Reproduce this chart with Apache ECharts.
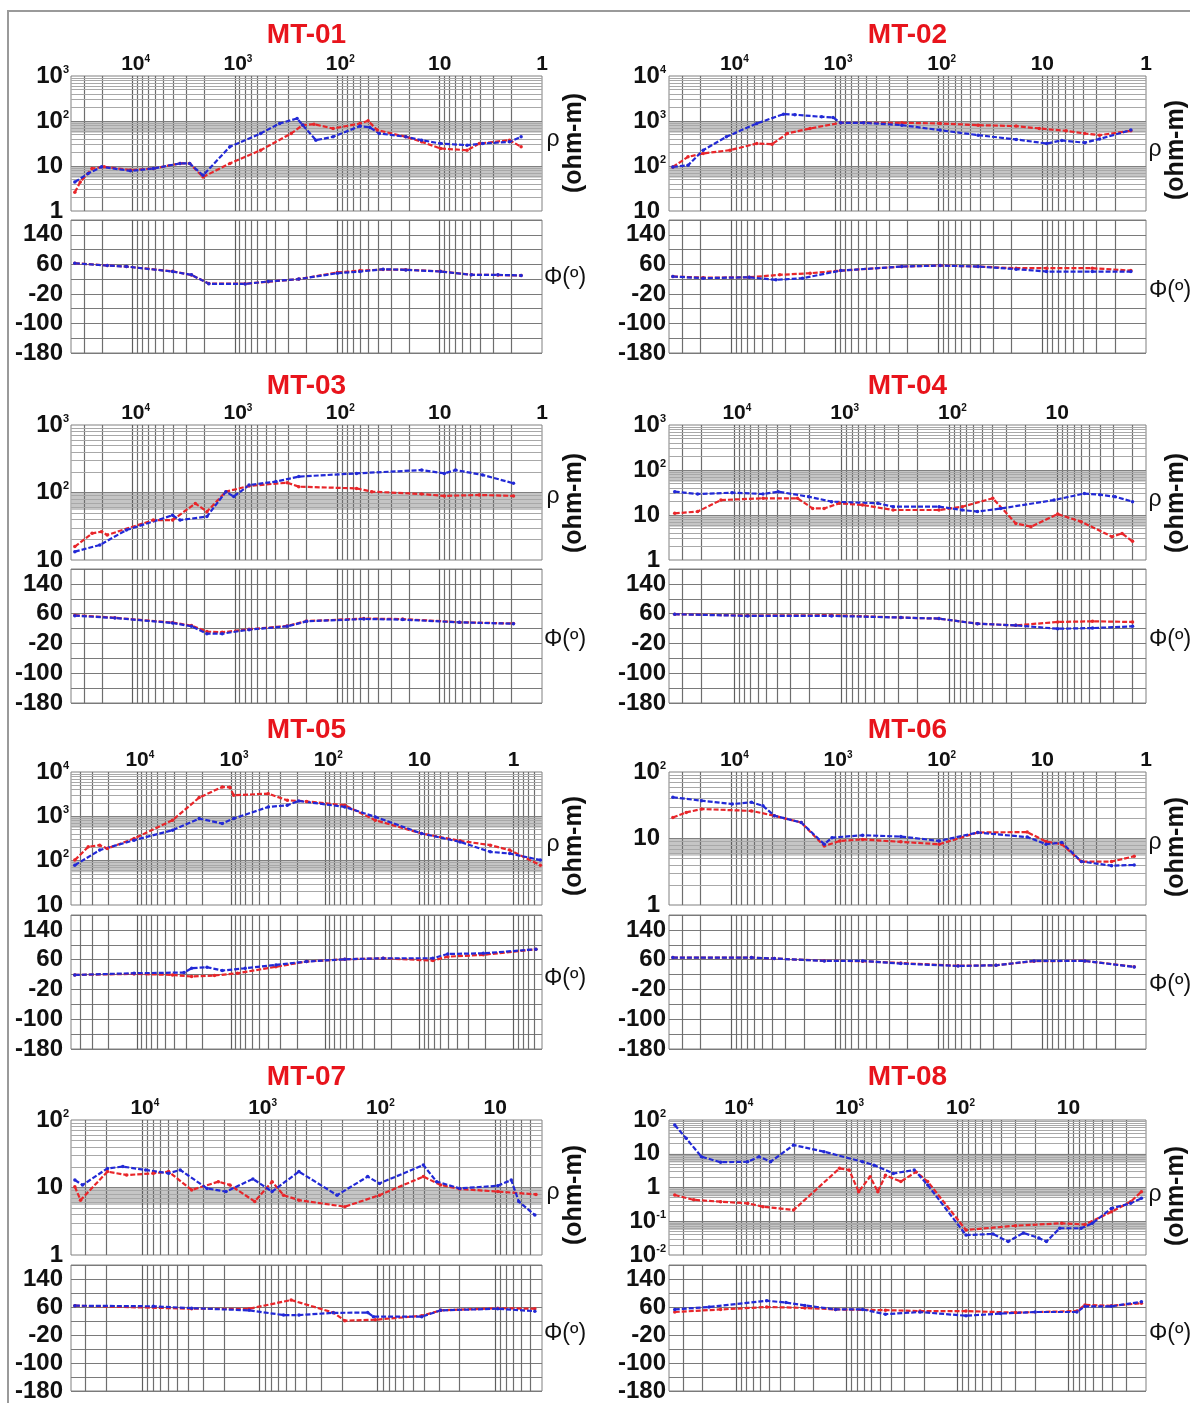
<!DOCTYPE html>
<html>
<head>
<meta charset="utf-8">
<script src="https://cdn.jsdelivr.net/npm/echarts@6/dist/echarts.min.js"></script>
<style>
  html, body { margin: 0; padding: 0; background: #fff; }
  #c { width: 1190px; height: 1403px; }
</style>
</head>
<body>
<div id="c"></div>
<script>
// ---- Station names ----
const stations = ['MT-01', 'MT-02', 'MT-03', 'MT-04', 'MT-05', 'MT-06', 'MT-07', 'MT-08'];

// ---- Frequency span of each station's horizontal axis, Hz [low, high] ----
const freqRange = [[1, 40000], [1, 40000], [1, 40000], [1.5, 40000], [0.5, 50000], [1, 40000], [4, 40000], [2, 40000]];

// ---- Apparent resistivity span of each station, ohm-m [low, high] ----
const rhoRange = [[1, 1000], [10, 10000], [10, 1000], [1, 1000], [10, 10000], [1, 100], [1, 100], [0.01, 100]];

// ---- Phase axis ----
const phaseRange = [-180, 180];
const phaseLabels = [140, 60, -20, -100, -180];

// ---- Sounding curves: [frequency Hz, value] ----
const mt01RhoRed = [[36700,2.6],[32500,4.4],[24900,8.8],[19000,9.6],[10500,8.1],[6280,8.8],[3440,11.4],[2770,11.4],[2050,5.7],[1120,11.4],[562,22.4],[282,52.8],[218,81],[169,85],[110,68],[60,88],[50,101],[40.7,62.7],[21.4,44.6],[15,34.4],[9.8,24.5],[5.4,22.4],[4.1,31.6],[2.08,37.5],[1.6,26.7]];
const mt01RhoBlue = [[36700,4.4],[27200,6.8],[20100,9.6],[10500,7.8],[6280,8.8],[3440,11.4],[2770,11.4],[2050,6.2],[1122,26.7],[562,52.8],[366,88],[247,114],[218,81],[162,37.5],[110,44.6],[60,77],[48,72],[39,53],[21.4,44.6],[15,37.5],[9.8,31.6],[5.4,29],[3.8,31.6],[2.08,34.4],[1.6,44.6]];
const mt01PhaseRed = [[36700,63],[17700,57],[11500,54],[4070,41],[2660,31],[1800,8],[794,7.5],[473,13],[238,20],[100,38],[60,43],[35.7,46],[21.4,45.5],[9.8,41],[4.9,32],[2.7,31],[1.6,29.5]];
const mt01PhaseBlue = [[36700,63],[17700,56.7],[11500,54],[4070,40.5],[2660,31.5],[1800,7.2],[794,7],[473,13.5],[238,20],[100,36],[60,40.5],[35.7,46.8],[21.4,45],[9.8,40.5],[4.9,31.5],[2.7,31.5],[1.6,30]];

const mt02RhoRed = [[36700,95],[26200,160],[18700,190],[10300,225],[5690,316],[4050,305],[2890,528],[1740,683],[881,913],[530,913],[227,913],[97,882],[41.7,809],[17.9,770],[10.7,683],[5.9,605],[3.9,528],[2.8,485],[1.4,605]];
const mt02RhoBlue = [[36700,95],[26200,104],[18700,225],[11200,445],[5690,882],[3145,1420],[2440,1380],[1350,1240],[1045,1200],[881,913],[530,913],[227,809],[97,627],[41.7,485],[17.9,389],[9.1,316],[6.5,370],[3.9,330],[2.8,400],[1.4,627]];
const mt02PhaseRed = [[36700,27],[18700,24],[6740,25],[3420,31.5],[1740,36],[881,43],[227,54],[97,56.7],[41.7,54],[17.9,49.5],[9.1,49.5],[3.3,49.5],[1.4,43]];
const mt02PhaseBlue = [[36700,27],[18700,22.5],[6740,25],[3720,18],[2060,22.5],[881,43],[227,54],[97,56.7],[41.7,54],[17.9,47],[9.1,40.5],[3.3,40.5],[1.4,40.5]];

const mt03RhoRed = [[36700,15.8],[24900,24.8],[20100,26.3],[17700,23.5],[6280,39],[4070,39],[2440,69],[1880,52],[1225,103],[728,125],[309,140],[238,122],[65,115],[46,103],[15,95],[9,89],[4.1,92],[1.9,89]];
const mt03RhoBlue = [[36700,13.3],[20900,16.7],[11500,27.8],[4070,46],[3440,39],[1880,44],[1225,103],[1028,87],[728,129],[398,145],[238,172],[65,192],[15,215],[9,192],[7,215],[3.8,182],[1.9,137]];
const mt03PhaseRed = [[36700,56],[14900,49],[4070,36],[2660,28],[1880,12],[1333,10],[728,18],[309,27],[200,40],[55,47],[23,45.5],[6.4,37],[1.9,33.5]];
const mt03PhaseBlue = [[36700,54.6],[14900,48.4],[4070,35],[2660,26],[1880,6.3],[1333,6.3],[728,17],[309,26],[200,39.4],[55,45.7],[23,44],[6.4,36.7],[1.9,33]];

const mt04RhoRed = [[35400,10.9],[21700,11.9],[13200,21.5],[5370,23.5],[2570,23.5],[1860,14],[1455,14],[1050,18.2],[641,16.7],[333,12.9],[125,12.9],[76,15.3],[39.6,23.5],[24.2,6.5],[17.5,5.5],[9.9,10.5],[6.0,7.1],[3.1,3.3],[2.5,3.9],[2.0,2.6]];
const mt04RhoBlue = [[35400,33],[21700,29.3],[10400,31.3],[5370,29.3],[3870,33],[2020,25.5],[1240,19.8],[461,18.2],[333,15.3],[125,15.3],[76,12.9],[55,11.9],[33.6,13.9],[10.7,21.5],[5.6,30],[4.0,28.2],[2.9,25.5],[2.0,19.8]];
const mt04PhaseRed = [[35400,58.5],[7460,55],[1240,56],[282,49.5],[125,46.7],[55,33],[24.2,28.6],[9.9,37.7],[4.7,39.5],[2.0,37.7]];
const mt04PhaseBlue = [[35400,58.5],[7460,54],[1240,54],[282,49.5],[125,46.7],[55,33],[24.2,28.6],[9.9,19.5],[4.7,21.3],[2.0,26]];

const mt05RhoRed = [[45600,103],[32800,205],[24800,224],[20600,188],[10700,316],[4180,817],[2180,2645],[1240,4600],[1030,4500],[936,2985],[403,3250],[253,2300],[158,2170],[62,1780],[29.4,817],[9.5,410],[3.7,280],[1.77,224],[1.1,173],[0.52,79]];
const mt05RhoBlue = [[45600,79],[24800,173],[10700,290],[4180,487],[2180,891],[1240,688],[936,891],[403,1630],[253,1780],[191,2225],[62,1630],[29.4,972],[9.5,410],[3.7,265],[1.77,158],[1.1,145],[0.52,103]];
const mt05PhaseRed = [[45600,19],[10700,21.8],[4180,19],[2620,14.7],[1500,17.4],[851,23.6],[334,41],[158,55],[62,61],[24.3,63.8],[7.2,57.6],[5.0,68],[2.1,73],[0.58,88]];
const mt05PhaseBlue = [[45600,19],[10700,23.6],[3150,25.4],[2620,37],[1800,39.7],[1240,30.8],[708,37],[334,46],[158,55],[62,61],[24.3,63.8],[7.2,63.8],[5.0,75.4],[2.1,77],[0.58,88]];

const mt06RhoRed = [[36700,20.7],[27300,24.7],[19400,27.7],[6410,26],[3850,22],[2120,17.4],[1270,7.7],[900,9.2],[543,9.7],[232,8.9],[99,8.2],[42,12.3],[14,12.5],[9.2,9],[6.5,8.2],[4.2,4.5],[2.15,4.5],[1.3,5.4]];
const mt06RhoBlue = [[36700,41.7],[19400,37],[9820,33],[6410,35],[4960,31],[3850,22],[2120,17.4],[1270,8.2],[1070,10.3],[543,11.2],[232,10.7],[99,9.2],[42,12.3],[14,10.5],[9.2,8.2],[6.5,8.7],[4.2,4.5],[2.15,3.9],[1.3,4.0]];
const mt06PhaseRed = [[36700,65.7],[6410,65.7],[3850,63],[1270,57],[543,56],[232,51],[65,43.5],[28,45],[12,56],[3.9,56.7],[1.3,41]];
const mt06PhaseBlue = [[36700,65.7],[6410,65.7],[3850,63],[1270,56.7],[543,56.7],[232,49.5],[65,43],[28,45],[12,56.7],[3.9,56.7],[1.3,40.5]];

const mt07RhoRed = [[37100,10.3],[33200,6.5],[19600,17.2],[13500,15.3],[8000,16.2],[5930,17.2],[3780,9.2],[2240,12.2],[1790,10.9],[1100,6.2],[784,12.2],[627,7.7],[464,6.5],[189,5.2],[96,7.7],[40.7,14.5],[29,10.9],[20,9.5],[9.5,8.7],[4.5,7.9]];
const mt07RhoBlue = [[37100,12.9],[31900,10.9],[19600,19.2],[14500,20.4],[9290,18.2],[5930,16.2],[4730,18.2],[2800,9.7],[1930,8.7],[1140,13.4],[784,8.7],[464,17.2],[220,7.7],[121,14.5],[96,11.5],[40.7,21.5],[31.4,12.2],[20,9.7],[9.5,10.6],[7.3,12.9],[6.3,6.2],[4.6,3.9]];
const mt07PhaseRed = [[37100,63.8],[3780,55],[1230,55],[540,80],[237,44],[189,21],[104,23.6],[42,35],[29,50.4],[9.5,56.7],[4.6,55]];
const mt07PhaseBlue = [[37100,63.8],[8000,62],[3780,56.7],[1230,50.4],[627,37],[464,37],[237,43.3],[121,44],[108,32.5],[42,32.5],[29,50.4],[9.5,55],[4.6,48]];

const mt08RhoRed = [[35500,0.6],[23900,0.43],[13700,0.38],[7810,0.34],[5690,0.27],[3010,0.215],[1160,3.7],[950,3.3],[780,0.75],[614,2.1],[524,0.75],[447,2.3],[325,1.5],[237,2.9],[186,1.5],[84,0.055],[30,0.074],[11.5,0.087],[7.1,0.08],[4.1,0.19],[2.75,0.38],[2.2,0.75]];
const mt08RhoBlue = [[35500,71],[28000,28.6],[20400,8.2],[13700,5.6],[7810,5.8],[6170,8.2],[4850,5.8],[3010,18.2],[1600,11.5],[720,5.8],[566,4.6],[380,2.6],[246,3.3],[186,1.19],[84,0.039],[48,0.042],[35,0.025],[25.5,0.045],[18.5,0.032],[15.8,0.025],[12,0.062],[7.7,0.062],[6.1,0.087],[4.1,0.24],[2.75,0.34],[2.2,0.48]];
const mt08PhaseRed = [[35500,45.7],[13700,53],[5260,60],[2380,57.4],[1260,53],[447,51],[218,48.4],[84,48.4],[30,44],[8.4,48.4],[7.1,66],[4.1,63.6],[2.2,70.8]];
const mt08PhaseBlue = [[35500,53],[17400,60],[5260,78],[3530,72.6],[2380,64.5],[1260,53],[720,53],[447,39.5],[218,45.7],[84,35],[41,41.2],[20,45.7],[8.4,45.7],[7.1,61.8],[4.1,61.8],[2.2,75]];

const rhoRedSets = [mt01RhoRed, mt02RhoRed, mt03RhoRed, mt04RhoRed, mt05RhoRed, mt06RhoRed, mt07RhoRed, mt08RhoRed];
const rhoBlueSets = [mt01RhoBlue, mt02RhoBlue, mt03RhoBlue, mt04RhoBlue, mt05RhoBlue, mt06RhoBlue, mt07RhoBlue, mt08RhoBlue];
const phaseRedSets = [mt01PhaseRed, mt02PhaseRed, mt03PhaseRed, mt04PhaseRed, mt05PhaseRed, mt06PhaseRed, mt07PhaseRed, mt08PhaseRed];
const phaseBlueSets = [mt01PhaseBlue, mt02PhaseBlue, mt03PhaseBlue, mt04PhaseBlue, mt05PhaseBlue, mt06PhaseBlue, mt07PhaseBlue, mt08PhaseBlue];

// ---- Page layout (pixels) ----
const FONT = '"Liberation Sans", Arial, Helvetica, sans-serif';
const RED = '#e8262a', BLUE = '#2229d6', TITLE_RED = '#e8141c';
const COL_X = [71, 669], COL_W = [471, 477];
const RHO_BOX = [[76, 135], [425, 135], [772, 133], [1120, 135]];
const PH_BOX = [[220, 133], [569, 134], [915, 134], [1265, 135]];
const TITLE_Y = [35, 386, 730, 1077];
const RHO_SYM_Y = [[140, 150], [497, 500], [845, 843], [1193, 1195]];
const OHM_Y = [[143, 150], [503, 503], [846, 847], [1195, 1196]];
const PHI_Y = [[278, 291], [640, 640], [979, 985], [1334, 1334]];
const RHO_SYM_X = [553, 1155], OHM_X = [574, 1176], PHI_X = [565, 1170];
const Y_LABEL_MARGIN_RHO = [2, 3], Y_LABEL_MARGIN_PH = [8, 3];

// decade labels with a raised exponent
function isDecade(v) {
  const e = Math.log10(v);
  return Math.abs(e - Math.round(e)) < 1e-6;
}
function xDecadeLabel(v) {
  if (!isDecade(v)) return '';
  const e = Math.round(Math.log10(v));
  if (e === 0) return '{b|1}';
  if (e === 1) return '{b|10}';
  return '{sp| }{b|10}{s|' + e + '}';
}
function yDecadeLabel(v) {
  if (!isDecade(v)) return '';
  const e = Math.round(Math.log10(v));
  if (e === 0) return '{b|1}{sp| }';
  if (e === 1) return '{b|10}{sp| }';
  return '{b|10}{s|' + e + '}';
}
const xRich = {
  b: { fontSize: 21, fontWeight: 'bold', color: '#111', fontFamily: FONT },
  s: { fontSize: 10, fontWeight: 'bold', color: '#111', fontFamily: FONT, verticalAlign: 'top' },
  sp: { width: 6, fontSize: 10 }
};
const yRich = {
  b: { fontSize: 24, fontWeight: 'bold', color: '#111', fontFamily: FONT },
  s: { fontSize: 11, fontWeight: 'bold', color: '#111', fontFamily: FONT, verticalAlign: 'top' },
  sp: { width: 6, fontSize: 11 }
};

// log-spaced grid values (1..9 x 10^n) strictly inside [lo, hi]
function logGridValues(lo, hi) {
  const out = [];
  for (let e = Math.floor(Math.log10(lo)) - 1; e <= Math.ceil(Math.log10(hi)); e++) {
    for (let k = 1; k <= 9; k++) {
      const v = parseFloat((k * Math.pow(10, e)).toPrecision(6));
      if (v > lo * 1.0001 && v < hi * 0.9999) out.push({ v, major: k === 1 });
    }
  }
  return out;
}

const grids = [], xAxes = [], yAxes = [], series = [], graphics = [];

graphics.push({
  type: 'rect', silent: true, z: 0,
  shape: { x: 8, y: 11, width: 1220, height: 1440 },
  style: { fill: 'none', stroke: '#9a9a9a', lineWidth: 2 }
});

stations.forEach((name, i) => {
  const col = i % 2, row = Math.floor(i / 2);
  const left = COL_X[col], width = COL_W[col];
  const [fLo, fHi] = freqRange[i];
  const [rLo, rHi] = rhoRange[i];
  const rhoIdx = 2 * i, phIdx = 2 * i + 1;

  grids.push({ left, width, top: RHO_BOX[row][0], height: RHO_BOX[row][1], show: true, borderColor: '#808080', borderWidth: 1, backgroundColor: '#fff' });
  grids.push({ left, width, top: PH_BOX[row][0], height: PH_BOX[row][1], show: true, borderColor: '#808080', borderWidth: 1, backgroundColor: '#fff' });

  const xBase = {
    type: 'log', logBase: 10, min: fLo, max: fHi, inverse: true,
    axisLine: { show: false }, axisTick: { show: false }, splitLine: { show: false },
    splitNumber: 5
  };
  xAxes.push(Object.assign({}, xBase, {
    gridIndex: rhoIdx, position: 'top',
    axisLabel: { show: true, margin: 1, formatter: xDecadeLabel, rich: xRich, hideOverlap: false }
  }));
  xAxes.push(Object.assign({}, xBase, { gridIndex: phIdx, position: 'bottom', axisLabel: { show: false } }));

  const decades = Math.round(Math.log10(rHi / rLo));
  yAxes.push({
    gridIndex: rhoIdx, type: 'log', logBase: 10, min: rLo, max: rHi, splitNumber: decades,
    axisLine: { show: false }, axisTick: { show: false }, splitLine: { show: false },
    axisLabel: { margin: Y_LABEL_MARGIN_RHO[col], formatter: yDecadeLabel, rich: yRich }
  });
  yAxes.push({
    gridIndex: phIdx, type: 'value', min: phaseRange[0], max: phaseRange[1], interval: 40,
    axisLine: { show: false }, axisTick: { show: false },
    splitLine: { show: true, lineStyle: { color: '#7a7a7a', width: 1 } },
    axisLabel: {
      margin: Y_LABEL_MARGIN_PH[col], fontSize: 24, fontWeight: 'bold', color: '#111', fontFamily: FONT,
      formatter: v => (phaseLabels.indexOf(v) >= 0 ? String(v) : '')
    }
  });

  // grid lines of the log frequency axis, shared by both boxes
  const vLines = logGridValues(fLo, fHi).map(g => ({ xAxis: g.v, lineStyle: { color: g.major ? '#5e5e5e' : '#6e6e6e', width: 1.2 } }));
  // log resistivity grid lines and the shaded band beneath each inner decade
  const hLines = logGridValues(rLo, rHi).map(g => ({ yAxis: g.v, lineStyle: { color: g.major ? '#808080' : '#a8a8a8', width: 1 } }));
  const bands = logGridValues(rLo, rHi).filter(g => g.major).map(g => [{ yAxis: g.v * 0.55 }, { yAxis: g.v }]);

  const markLineBase = { silent: true, symbol: ['none', 'none'], label: { show: false }, z: 2, animation: false, lineStyle: { type: 'solid' } };
  series.push({
    type: 'line', xAxisIndex: rhoIdx, yAxisIndex: rhoIdx, data: [], silent: true,
    markArea: { silent: true, z: 1, itemStyle: { color: '#b6b6b6', opacity: 0.8 }, label: { show: false }, data: bands },
    markLine: Object.assign({}, markLineBase, { data: vLines.concat(hLines) })
  });
  series.push({
    type: 'line', xAxisIndex: phIdx, yAxisIndex: phIdx, data: [], silent: true,
    markLine: Object.assign({}, markLineBase, { data: vLines })
  });

  const curve = (data, color, xi) => ({
    type: 'line', xAxisIndex: xi, yAxisIndex: xi, data, z: 5, silent: true, clip: true,
    symbol: 'circle', symbolSize: 3.5, showSymbol: true,
    lineStyle: { color, width: 2.2, type: [5, 2] }, itemStyle: { color }
  });
  series.push(curve(rhoRedSets[i], RED, rhoIdx));
  series.push(curve(rhoBlueSets[i], BLUE, rhoIdx));
  series.push(curve(phaseRedSets[i], RED, phIdx));
  series.push(curve(phaseBlueSets[i], BLUE, phIdx));

  // station title and side captions
  graphics.push({
    type: 'text', x: left + width / 2, y: TITLE_Y[row], silent: true,
    style: { text: name, fill: TITLE_RED, fontSize: 28, fontWeight: 'bold', fontFamily: FONT, align: 'center', verticalAlign: 'middle' }
  });
  graphics.push({
    type: 'text', x: RHO_SYM_X[col], y: RHO_SYM_Y[row][col], silent: true,
    style: { text: 'ρ', fill: '#111', fontSize: 23, fontFamily: FONT, align: 'center', verticalAlign: 'middle' }
  });
  graphics.push({
    type: 'text', x: OHM_X[col], y: OHM_Y[row][col], rotation: Math.PI / 2, silent: true,
    style: { text: '(ohm-m)', fill: '#111', fontSize: 25, fontWeight: 'bold', fontFamily: FONT, align: 'center', verticalAlign: 'middle' }
  });
  graphics.push({
    type: 'text', x: PHI_X[col], y: PHI_Y[row][col], silent: true,
    style: { text: 'Φ(º)', fill: '#111', fontSize: 23, fontFamily: FONT, align: 'center', verticalAlign: 'middle' }
  });
});

const chart = echarts.init(document.getElementById('c'), null, { renderer: 'canvas', width: 1190, height: 1403 });
chart.setOption({
  backgroundColor: '#fff',
  animation: false,
  grid: grids,
  xAxis: xAxes,
  yAxis: yAxes,
  series: series,
  graphic: graphics
});
</script>
</body>
</html>
